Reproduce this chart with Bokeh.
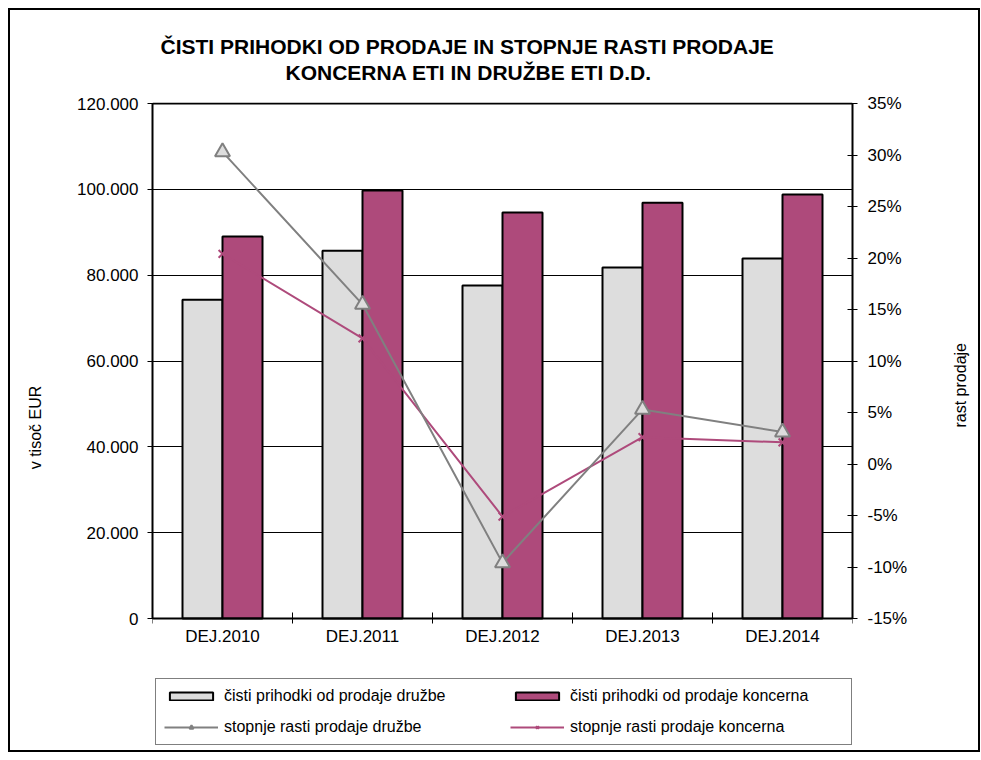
import math
import numpy as np
from bokeh.plotting import figure
from bokeh.models import (Range1d, LinearAxis, FixedTicker, Legend, LegendItem,
                          Title, ColumnDataSource, Span, InlineStyleSheet)
from bokeh.transform import dodge
from bokeh.core.properties import value
from bokeh.embed import file_html
from bokeh.resources import INLINE

# ---------------- data ----------------
categories = ["DEJ.2010", "DEJ.2011", "DEJ.2012", "DEJ.2013", "DEJ.2014"]
prihodki_druzbe = [74300, 85700, 77600, 81800, 83900]
prihodki_koncerna = [89000, 99700, 94600, 96900, 98800]
rast_druzbe = [30.3, 15.5, -9.6, 5.3, 3.1]
rast_koncerna = [20.4, 12.2, -5.1, 2.6, 2.1]

left_ticks = [0, 20000, 40000, 60000, 80000, 100000, 120000]
left_tick_labels = ["0", "20.000", "40.000", "60.000", "80.000", "100.000", "120.000"]
right_ticks = [-15, -10, -5, 0, 5, 10, 15, 20, 25, 30, 35]
right_tick_labels = ["-15%", "-10%", "-5%", "0%", "5%", "10%", "15%", "20%", "25%", "30%", "35%"]

title_lines = ["ČISTI PRIHODKI OD PRODAJE  IN STOPNJE RASTI PRODAJE",
               "KONCERNA ETI  IN DRUŽBE ETI D.D."]
left_label = "v tisoč EUR"
right_label = "rast prodaje"
legend_labels = ["čisti prihodki od prodaje družbe", "čisti prihodki od prodaje koncerna",
                 "stopnje rasti prodaje družbe", "stopnje rasti prodaje koncerna"]

FONT = "Liberation Sans"
GRAY_FILL = "#DDDDDD"
PURPLE = "#AE4A7B"
GRAY_LINE = "#808080"

n = len(categories)
xc = np.arange(n) + 0.5

# layout: value area 515 px tall, 1 px above it, 134 px below it for labels and legend
AREA_PX = 515.0
ABOVE_PX = 1.0
BELOW_PX = 134.0
py = 120000 / AREA_PX            # left-axis units per pixel
pp = 50.0 / AREA_PX              # percent units per pixel

src = ColumnDataSource(dict(x=xc, cat=categories, d=prihodki_druzbe, k=prihodki_koncerna,
                            rd=rast_druzbe, rk=rast_koncerna))
tick_src = ColumnDataSource(dict(tx=list(range(n + 1))))

p = figure(width=981, height=760, x_range=Range1d(0, n),
           y_range=Range1d(-BELOW_PX * py, 120000 + ABOVE_PX * py),
           x_axis_location=None,
           output_backend="svg", toolbar_location=None,
           min_border_left=152, min_border_right=129, min_border_top=102, min_border_bottom=8)
p.background_fill_color = "white"
p.border_fill_color = "white"
p.outline_line_color = None
# outer frame line drawn by CSS on a pseudo element (does not affect the layout)
p.stylesheets = [InlineStyleSheet(css=(
    ":host { position: relative; } "
    ":host::after { content: ''; position: absolute; left: 8px; top: 8px; "
    "width: 968px; height: 740px; border: 2px solid black; "
    "pointer-events: none; z-index: 10; }"))]

p.extra_y_ranges = {"pct": Range1d(-15 - BELOW_PX * pp, 35 + ABOVE_PX * pp)}

# left axis
ya = p.yaxis[0]
ya.bounds = (0, 120000)
ya.ticker = FixedTicker(ticks=left_ticks)
ya.major_label_overrides = {t: l for t, l in zip(left_ticks, left_tick_labels)}
ya.major_tick_in = 5
ya.major_tick_out = 5
ya.minor_tick_line_color = None
ya.axis_line_width = 2
ya.major_label_standoff = 9
ya.major_label_text_font = FONT
ya.major_label_text_font_size = "17px"
ya.major_label_text_color = "black"
ya.axis_label = left_label
ya.axis_label_standoff = 30
ya.axis_label_text_font = FONT
ya.axis_label_text_font_size = "16px"
ya.axis_label_text_font_style = "normal"
ya.axis_label_text_color = "black"

# right axis
ra = LinearAxis(y_range_name="pct")
ra.bounds = (-15, 35)
ra.ticker = FixedTicker(ticks=right_ticks)
ra.major_label_overrides = {t: l for t, l in zip(right_ticks, right_tick_labels)}
ra.major_tick_in = 5
ra.major_tick_out = 5
ra.minor_tick_line_color = None
ra.axis_line_width = 2
ra.major_label_standoff = 10
ra.major_label_text_font = FONT
ra.major_label_text_font_size = "17px"
ra.major_label_text_color = "black"
ra.axis_label = right_label
ra.axis_label_standoff = 50
ra.axis_label_text_font = FONT
ra.axis_label_text_font_size = "16px"
ra.axis_label_text_font_style = "normal"
ra.axis_label_text_color = "black"
if "axis_label_orientation" in LinearAxis.properties():
    ra.axis_label_orientation = math.pi / 2
p.add_layout(ra, "right")

# grid
p.xgrid.visible = False
p.ygrid.ticker = FixedTicker(ticks=left_ticks)
p.ygrid.grid_line_color = "black"
p.ygrid.grid_line_width = 1

# bars
bw = 40 / 140
b1 = p.vbar(x=dodge("x", -bw / 2), top="d", width=bw, source=src,
            fill_color=GRAY_FILL, line_color="black", line_width=2)
b2 = p.vbar(x=dodge("x", bw / 2), top="k", width=bw, source=src,
            fill_color=PURPLE, line_color="black", line_width=2)

# plot-area top line and category axis: base line, boundary ticks and labels
p.add_layout(Span(location=left_ticks[-1], dimension="width", line_color="black", line_width=2))
p.add_layout(Span(location=0, dimension="width", line_color="black", line_width=2))
p.segment(x0="tx", y0=6 * py, x1="tx", y1=-5 * py, source=tick_src,
          line_color="black", line_width=1)
p.text(x="x", y=-18 * py, text="cat", source=src, text_align="center",
       text_baseline="middle", text_font=value(FONT), text_font_size="17px",
       text_color="black")

# lines
l2 = p.line("x", "rk", source=src, y_range_name="pct", line_color=PURPLE, line_width=2)
l1 = p.line("x", "rd", source=src, y_range_name="pct", line_color=GRAY_LINE, line_width=2)
m2 = p.scatter("x", "rk", source=src, y_range_name="pct", marker="x", size=11,
               line_color=PURPLE, line_width=2)
m1 = p.scatter("x", "rd", source=src, y_range_name="pct", marker="triangle", size=15,
               fill_color=GRAY_FILL, line_color=GRAY_LINE, line_width=2)

# legend (inside the extended frame, below the value area)
legend = Legend(items=[LegendItem(label=legend_labels[0], renderers=[b1]),
                       LegendItem(label=legend_labels[1], renderers=[b2]),
                       LegendItem(label=legend_labels[2], renderers=[l1, m1]),
                       LegendItem(label=legend_labels[3], renderers=[l2, m2])],
                location=(3, 7), orientation="horizontal", ncols=2,
                glyph_width=54, glyph_height=10, label_standoff=6, label_width=273,
                label_height=18, spacing=13, padding=8, margin=0,
                border_line_color="black", border_line_width=1,
                background_fill_color="white", background_fill_alpha=1,
                label_text_font=FONT, label_text_font_size="16px", label_text_color="black")
p.add_layout(legend, "center")

# titles (added nearest-first)
t2 = Title(text=title_lines[1], align="left", offset=133, standoff=33, vertical_align="top",
           text_font=FONT, text_font_size="21px", text_font_style="bold", text_color="black")
t1 = Title(text=title_lines[0], align="left", offset=8, standoff=-26, vertical_align="bottom",
           text_font=FONT, text_font_size="21px", text_font_style="bold", text_color="black")
p.add_layout(t2, "above")
p.add_layout(t1, "above")

open("out.html", "w").write(file_html(p, INLINE))
